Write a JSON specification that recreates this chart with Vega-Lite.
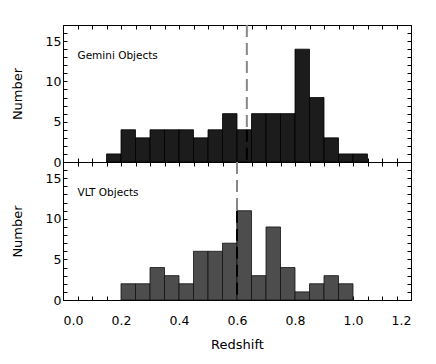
{
  "$schema": "https://vega.github.io/schema/vega-lite/v6.json",
  "padding": {"left": 10, "top": 23, "right": 23, "bottom": 5},
  "spacing": 0,
  "bounds": "flush",
  "config": {
    "view": {"stroke": "#000", "strokeWidth": 1},
    "font": "DejaVu Sans",
    "axis": {
      "grid": false,
      "domainColor": "#000",
      "tickColor": "#000",
      "labelFont": "DejaVu Sans",
      "labelFontSize": 12.5,
      "labelColor": "#000",
      "titleFont": "DejaVu Sans",
      "titleFontSize": 13,
      "titleFontWeight": "normal",
      "titleColor": "#000"
    }
  },
  "datasets": {
    "gemini": [
      {"lo": 0.15, "hi": 0.20, "n": 1},
      {"lo": 0.20, "hi": 0.25, "n": 4},
      {"lo": 0.25, "hi": 0.30, "n": 3},
      {"lo": 0.30, "hi": 0.35, "n": 4},
      {"lo": 0.35, "hi": 0.40, "n": 4},
      {"lo": 0.40, "hi": 0.45, "n": 4},
      {"lo": 0.45, "hi": 0.50, "n": 3},
      {"lo": 0.50, "hi": 0.55, "n": 4},
      {"lo": 0.55, "hi": 0.60, "n": 6},
      {"lo": 0.60, "hi": 0.65, "n": 4},
      {"lo": 0.65, "hi": 0.70, "n": 6},
      {"lo": 0.70, "hi": 0.75, "n": 6},
      {"lo": 0.75, "hi": 0.80, "n": 6},
      {"lo": 0.80, "hi": 0.85, "n": 14},
      {"lo": 0.85, "hi": 0.90, "n": 8},
      {"lo": 0.90, "hi": 0.95, "n": 3},
      {"lo": 0.95, "hi": 1.00, "n": 1},
      {"lo": 1.00, "hi": 1.05, "n": 1}
    ],
    "vlt": [
      {"lo": 0.20, "hi": 0.25, "n": 2},
      {"lo": 0.25, "hi": 0.30, "n": 2},
      {"lo": 0.30, "hi": 0.35, "n": 4},
      {"lo": 0.35, "hi": 0.40, "n": 3},
      {"lo": 0.40, "hi": 0.45, "n": 2},
      {"lo": 0.45, "hi": 0.50, "n": 6},
      {"lo": 0.50, "hi": 0.55, "n": 6},
      {"lo": 0.55, "hi": 0.60, "n": 7},
      {"lo": 0.60, "hi": 0.65, "n": 11},
      {"lo": 0.65, "hi": 0.70, "n": 3},
      {"lo": 0.70, "hi": 0.75, "n": 9},
      {"lo": 0.75, "hi": 0.80, "n": 4},
      {"lo": 0.80, "hi": 0.85, "n": 1},
      {"lo": 0.85, "hi": 0.90, "n": 2},
      {"lo": 0.90, "hi": 0.95, "n": 3},
      {"lo": 0.95, "hi": 1.00, "n": 2}
    ],
    "gline": [{"z": 0.634, "top": 4, "label": "Gemini Objects"}],
    "vline": [{"z": 0.600, "top": 11, "label": "VLT Objects"}]
  },
  "vconcat": [
    {
      "width": 348,
      "height": 137,
      "resolve": {"axis": {"x": "independent", "y": "independent"}},
      "layer": [
        {
          "data": {"name": "gline"},
          "mark": {"type": "rule", "color": "#888", "strokeWidth": 2, "strokeDash": [12, 6]},
          "encoding": {"x": {"field": "z", "type": "quantitative", "scale": {"domain": [0, 1.2]}, "axis": null}}
        },
        {
          "data": {"name": "gemini"},
          "mark": {"type": "bar", "color": "#1c1c1c", "stroke": "#000", "strokeWidth": 0.8},
          "encoding": {
            "x": {"field": "lo", "type": "quantitative", "scale": {"domain": [0, 1.2]},
              "axis": {"orient": "bottom", "values": [0,0.05,0.1,0.15,0.2,0.25,0.3,0.35,0.4,0.45,0.5,0.55,0.6,0.65,0.7,0.75,0.8,0.85,0.9,0.95,1.0,1.05,1.1,1.15,1.2], "labels": false, "title": null, "tickSize": -4}},
            "x2": {"field": "hi"},
            "y": {"field": "n", "type": "quantitative", "scale": {"domain": [0, 17], "nice": false},
              "axis": {"orient": "left", "values": [0,1,2,3,4,5,6,7,8,9,10,11,12,13,14,15,16], "title": "Number", "titlePadding": 21, "labelPadding": 6,
                "labelExpr": "datum.value % 5 == 0 ? datum.label : ''", "tickSize": -4}},
            "y2": {"datum": 0}
          }
        },
        {
          "data": {"name": "gline"},
          "mark": {"type": "rule", "color": "#000", "strokeWidth": 2, "strokeDash": [12, 6]},
          "encoding": {
            "x": {"field": "z", "type": "quantitative", "axis": null},
            "y": {"field": "top", "type": "quantitative", "axis": null},
            "y2": {"datum": 0}
          }
        },
        {
          "data": {"name": "gline"},
          "mark": {"type": "text", "align": "left", "baseline": "middle", "fontSize": 10.5, "color": "#000", "font": "DejaVu Sans"},
          "encoding": {
            "x": {"datum": 0.05, "type": "quantitative", "axis": null},
            "y": {"datum": 13.2, "type": "quantitative", "axis": null},
            "text": {"field": "label"}
          }
        },
        {
          "data": {"name": "gemini"},
          "mark": {"type": "bar", "opacity": 0},
          "encoding": {
            "x": {"field": "lo", "type": "quantitative",
              "axis": {"orient": "top", "values": [0,0.05,0.1,0.15,0.2,0.25,0.3,0.35,0.4,0.45,0.5,0.55,0.6,0.65,0.7,0.75,0.8,0.85,0.9,0.95,1.0,1.05,1.1,1.15,1.2], "labels": false, "title": null, "tickSize": -4}},
            "x2": {"field": "hi"},
            "y": {"field": "n", "type": "quantitative",
              "axis": {"orient": "right", "values": [0,1,2,3,4,5,6,7,8,9,10,11,12,13,14,15,16], "labels": false, "title": null, "tickSize": -4}},
            "y2": {"datum": 0}
          }
        }
      ]
    },
    {
      "width": 348,
      "height": 138,
      "resolve": {"axis": {"x": "independent", "y": "independent"}},
      "layer": [
        {
          "data": {"name": "vline"},
          "mark": {"type": "rule", "color": "#888", "strokeWidth": 2, "strokeDash": [12, 6]},
          "encoding": {"x": {"field": "z", "type": "quantitative", "scale": {"domain": [0, 1.2]}, "axis": null}}
        },
        {
          "data": {"name": "vlt"},
          "mark": {"type": "bar", "color": "#4d4d4d", "stroke": "#111", "strokeWidth": 0.8},
          "encoding": {
            "x": {"field": "lo", "type": "quantitative", "scale": {"domain": [0, 1.2]},
              "axis": {"orient": "bottom", "values": [0,0.05,0.1,0.15,0.2,0.25,0.3,0.35,0.4,0.45,0.5,0.55,0.6,0.65,0.7,0.75,0.8,0.85,0.9,0.95,1.0,1.05,1.1,1.15,1.2], "title": "Redshift", "titlePadding": 12, "labelPadding": 18,
                "labelExpr": "abs(datum.value*10 - round(datum.value*10)) < 0.01 && round(datum.value*10) % 2 == 0 ? format(datum.value, '.1f') : ''", "tickSize": -4}},
            "x2": {"field": "hi"},
            "y": {"field": "n", "type": "quantitative", "scale": {"domain": [0, 17], "nice": false},
              "axis": {"orient": "left", "values": [0,1,2,3,4,5,6,7,8,9,10,11,12,13,14,15,16], "title": "Number", "titlePadding": 21, "labelPadding": 6,
                "labelExpr": "datum.value % 5 == 0 ? datum.label : ''", "tickSize": -4}},
            "y2": {"datum": 0}
          }
        },
        {
          "data": {"name": "vline"},
          "mark": {"type": "rule", "color": "#000", "strokeWidth": 2, "strokeDash": [12, 6]},
          "encoding": {
            "x": {"field": "z", "type": "quantitative", "axis": null},
            "y": {"field": "top", "type": "quantitative", "axis": null},
            "y2": {"datum": 0}
          }
        },
        {
          "data": {"name": "vline"},
          "mark": {"type": "text", "align": "left", "baseline": "middle", "fontSize": 10.5, "color": "#000", "font": "DejaVu Sans"},
          "encoding": {
            "x": {"datum": 0.05, "type": "quantitative", "axis": null},
            "y": {"datum": 13.2, "type": "quantitative", "axis": null},
            "text": {"field": "label"}
          }
        },
        {
          "data": {"name": "vlt"},
          "mark": {"type": "bar", "opacity": 0},
          "encoding": {
            "x": {"field": "lo", "type": "quantitative",
              "axis": {"orient": "top", "values": [0,0.05,0.1,0.15,0.2,0.25,0.3,0.35,0.4,0.45,0.5,0.55,0.6,0.65,0.7,0.75,0.8,0.85,0.9,0.95,1.0,1.05,1.1,1.15,1.2], "labels": false, "title": null, "tickSize": -4}},
            "x2": {"field": "hi"},
            "y": {"field": "n", "type": "quantitative",
              "axis": {"orient": "right", "values": [0,1,2,3,4,5,6,7,8,9,10,11,12,13,14,15,16], "labels": false, "title": null, "tickSize": -4}},
            "y2": {"datum": 0}
          }
        }
      ]
    }
  ]
}
